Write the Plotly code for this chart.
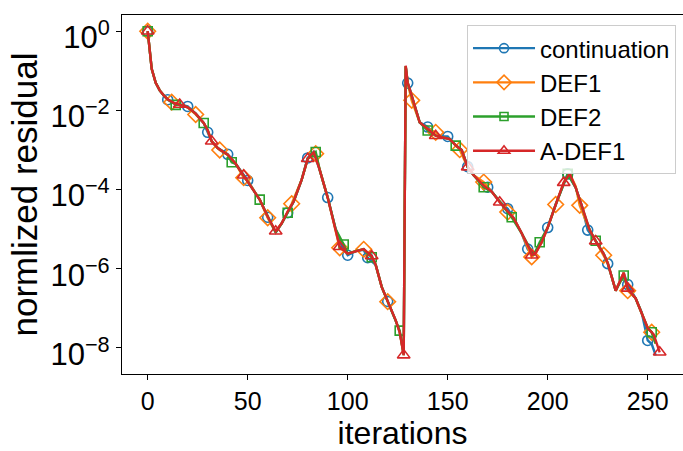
import plotly.graph_objects as go

# ---------------- data ----------------
cont_iter = [0,2,4,6,8,10,13,16,20,24,28,30,32,35,40,44,48,50,54,56,60,64,67,70,73,77,80,83,86,90,94,97,100,104,108,110,114,117,120,124,126,128,129,130,131,133,136,140,144,147,150,154,157,160,163,168,170,172,176,180,183,187,190,192,194,197,200,204,208,210,214,217,220,224,228,230,232,234,238,240,244,247,250,252,254]
cont_res = [1.0,1.12e-1,5.0e-2,3.2e-2,2.4e-2,1.86e-2,1.55e-2,1.41e-2,1.26e-2,8.3e-3,4.8e-3,2.8e-3,1.66e-3,1.12e-3,7.8e-4,4.5e-4,2.3e-4,1.7e-4,7.9e-5,5.6e-5,2.0e-5,8.3e-6,1.41e-5,2.6e-5,5.0e-5,1.78e-4,6.3e-4,8.9e-4,3.16e-4,6.3e-5,1.0e-5,3.8e-6,2.2e-6,2.8e-6,3.0e-6,1.9e-6,1.26e-6,3.5e-7,1.5e-7,5.0e-8,2.5e-8,7.0e-9,1.3e-1,4.9e-2,3.5e-2,1.58e-2,5.0e-3,3.8e-3,2.3e-3,2.2e-3,2.2e-3,1.32e-3,1.0e-3,3.8e-4,2.3e-4,1.26e-4,1.15e-4,8.9e-5,5.0e-5,3.3e-5,1.9e-5,7.9e-6,3.16e-6,2.4e-6,2.6e-6,4.7e-6,1.1e-5,4.2e-5,1.5e-4,2.5e-4,1.12e-4,4.0e-5,9.5e-6,5.0e-6,2.4e-6,1.35e-6,6.3e-7,2.8e-7,7.9e-7,4.0e-7,1.78e-7,7.9e-8,1.55e-8,1.26e-8,6.5e-9]

def1_iter = [0,2,4,6,8,10,12,16,20,24,28,30,32,36,40,44,48,50,54,56,60,64,67,70,72,77,80,84,86,90,94,96,100,104,108,112,114,117,120,124,126,128,129,130,132,136,140,144,147,151,154,156,160,163,168,172,176,180,183,187,192,194,197,200,204,208,211,214,216,221,224,228,230,232,234,238,240,244,247,250,252,254]
def1_res = [1.0,1.12e-1,5.0e-2,3.2e-2,2.4e-2,1.9e-2,1.62e-2,1.41e-2,1.2e-2,7.9e-3,4.8e-3,3.16e-3,1.66e-3,1.0e-3,7.6e-4,4.5e-4,2.0e-4,1.66e-4,7.9e-5,5.6e-5,1.95e-5,8.5e-6,1.41e-5,2.8e-5,4.4e-5,1.78e-4,6.0e-4,8.1e-4,3.16e-4,6.3e-5,1.0e-5,3.4e-6,2.4e-6,2.8e-6,3.1e-6,2.0e-6,1.26e-6,3.5e-7,1.48e-7,5.0e-8,2.5e-8,6.6e-9,1.3e-1,5.0e-2,1.8e-2,5.0e-3,3.4e-3,2.8e-3,2.1e-3,1.9e-3,1.32e-3,1.02e-3,3.7e-4,2.3e-4,1.55e-4,8.9e-5,5.0e-5,2.7e-5,1.9e-5,7.9e-6,2.0e-6,2.5e-6,4.7e-6,1.1e-5,4.2e-5,1.5e-4,2.5e-4,1.2e-4,4.0e-5,9.5e-6,5.0e-6,2.2e-6,1.41e-6,6.3e-7,2.8e-7,7.9e-7,2.8e-7,1.78e-7,7.9e-8,3.2e-8,2.5e-8,1.3e-8]

def2_iter = [0,2,4,6,8,10,14,16,20,24,28,30,32,35,40,42,44,48,50,54,56,60,64,67,70,73,77,80,84,86,90,94,98,100,104,108,112,114,117,120,124,126,128,129,130,133,136,140,144,147,151,154,157,160,163,168,172,176,180,182,187,191,193,196,200,204,208,210,214,217,221,224,228,230,232,234,238,240,244,247,250,252,254]
def2_res = [1.0,1.12e-1,5.0e-2,3.2e-2,2.4e-2,1.9e-2,1.38e-2,1.41e-2,1.2e-2,8.3e-3,4.8e-3,3.16e-3,1.66e-3,1.12e-3,7.6e-4,4.9e-4,4.5e-4,2.3e-4,1.66e-4,7.9e-5,5.6e-5,2.1e-5,8.3e-6,1.41e-5,2.6e-5,5.0e-5,1.78e-4,6.0e-4,8.9e-4,3.16e-4,6.3e-5,1.0e-5,4.1e-6,2.4e-6,2.8e-6,3.16e-6,1.95e-6,1.26e-6,3.5e-7,1.5e-7,5.0e-8,2.75e-8,6.6e-9,1.3e-1,5.0e-2,1.58e-2,5.0e-3,3.1e-3,2.3e-3,2.1e-3,1.9e-3,1.29e-3,1.0e-3,3.7e-4,2.3e-4,1.15e-4,8.9e-5,5.0e-5,2.8e-5,2.0e-5,7.9e-6,3.16e-6,2.2e-6,4.7e-6,1.1e-5,4.2e-5,1.5e-4,2.5e-4,1.12e-4,4.0e-5,9.5e-6,5.1e-6,2.4e-6,1.41e-6,6.3e-7,2.8e-7,6.8e-7,3.2e-7,1.78e-7,7.9e-8,3.2e-8,2.5e-8,1.3e-8]

adef1_iter = [0,2,4,6,8,10,13,16,20,24,28,30,32,35,40,44,48,50,54,56,60,64,67,70,73,77,80,83,86,90,94,96,100,104,108,112,114,117,120,124,126,128,129,130,131,133,136,140,144,147,151,154,157,160,163,168,172,176,180,183,187,191,192,194,197,200,204,208,211,214,217,221,224,228,230,232,234,238,240,244,247,250,253,256]
adef1_res = [1.0,1.12e-1,5.0e-2,3.2e-2,2.4e-2,1.9e-2,1.55e-2,1.41e-2,1.2e-2,8.3e-3,4.8e-3,3.16e-3,1.66e-3,1.12e-3,7.6e-4,4.5e-4,2.3e-4,1.66e-4,7.9e-5,5.6e-5,2.1e-5,8.9e-6,1.41e-5,2.8e-5,5.0e-5,1.78e-4,6.0e-4,8.9e-4,3.16e-4,6.3e-5,1.0e-5,3.6e-6,2.4e-6,2.8e-6,3.16e-6,2.1e-6,1.26e-6,3.5e-7,1.5e-7,5.0e-8,2.5e-8,6.6e-9,1.35e-1,5.0e-2,3.5e-2,1.58e-2,5.0e-3,3.4e-3,2.3e-3,2.1e-3,1.9e-3,1.32e-3,1.0e-3,3.7e-4,2.3e-4,1.26e-4,8.9e-5,4.8e-5,2.8e-5,1.9e-5,7.9e-6,3.16e-6,2.2e-6,2.5e-6,4.7e-6,1.1e-5,4.2e-5,1.5e-4,2.5e-4,1.12e-4,4.0e-5,9.5e-6,5.0e-6,2.4e-6,1.41e-6,6.3e-7,2.8e-7,7.9e-7,3.2e-7,1.78e-7,7.9e-8,3.2e-8,2.2e-8,7.8e-9]

series_names = ["continuation", "DEF1", "DEF2", "A-DEF1"]
x_ticks = [0, 50, 100, 150, 200, 250]
y_ticks = [1, 1e-2, 1e-4, 1e-6, 1e-8]
y_tick_text = ["10<sup>0</sup>", "10<sup>−2</sup>", "10<sup>−4</sup>", "10<sup>−6</sup>", "10<sup>−8</sup>"]

# ---------------- styles ----------------
styles = [
    dict(color="#1f77b4", symbol="circle-open", size=10, every=10),
    dict(color="#ff7f0e", symbol="diamond-open", size=12, every=12),
    dict(color="#2ca02c", symbol="square-open", size=9, every=14),
    dict(color="#d62728", symbol="triangle-up-open", size=11, every=16),
]
data = [(cont_iter, cont_res), (def1_iter, def1_res), (def2_iter, def2_res), (adef1_iter, adef1_res)]

FONT = "Liberation Sans, Arial, sans-serif"
fig = go.Figure()
for name, (xs, ys), st in zip(series_names, data, styles):
    fig.add_trace(go.Scatter(x=xs, y=ys, mode="lines", showlegend=False,
                             line=dict(color=st["color"], width=2.4)))
    mx = [x for x in xs if x % st["every"] == 0]
    my = [y for x, y in zip(xs, ys) if x % st["every"] == 0]
    fig.add_trace(go.Scatter(x=mx, y=my, mode="markers", showlegend=False,
                             marker=dict(symbol=st["symbol"], size=st["size"], color=st["color"],
                                         line=dict(width=1.6, color=st["color"]))))
for name, st in zip(series_names, styles):
    fig.add_trace(go.Scatter(x=[None], y=[None], mode="lines+markers", name=name,
                             line=dict(color=st["color"], width=2.4),
                             marker=dict(symbol=st["symbol"], size=st["size"] - 1, color=st["color"],
                                         line=dict(width=1.6, color=st["color"]))))

fig.update_layout(
    width=683, height=451,
    margin=dict(l=122, r=0, t=15, b=77),
    plot_bgcolor="white", paper_bgcolor="white",
    font=dict(family=FONT, color="black", size=24),
    legend=dict(x=0.615, y=0.972, xanchor="left", yanchor="top", itemwidth=62,
                bgcolor="rgba(255,255,255,0.8)", bordercolor="#cccccc", borderwidth=1,
                font=dict(size=24, family=FONT)),
)
fig.update_xaxes(range=[-12.85, 267.65], tickvals=x_ticks, ticks="outside", ticklen=5, tickwidth=1.2,
                 tickcolor="black", showline=True, linecolor="black", linewidth=1.2, mirror=True,
                 showgrid=False, zeroline=False, tickfont=dict(size=25),
                 title=dict(text="iterations", font=dict(size=32), standoff=9))
fig.update_yaxes(type="log", range=[-8.657, 0.41], tickvals=y_ticks, ticktext=y_tick_text,
                 ticks="outside", ticklen=5, tickwidth=1.2, tickcolor="black",
                 showline=True, linecolor="black", linewidth=1.2, mirror=False,
                 showgrid=False, zeroline=False, tickfont=dict(size=31), ticklabelshift=6,
                 title=dict(text="normlized residual", font=dict(size=35), standoff=2))

fig.write_html("out.html")
